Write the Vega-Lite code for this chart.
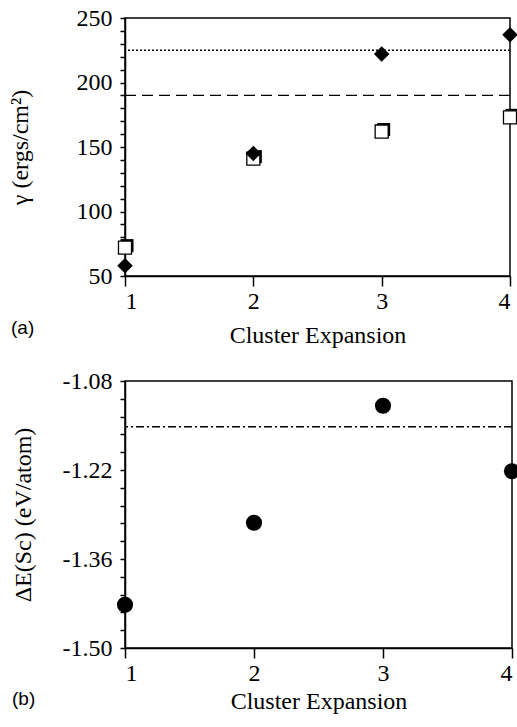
{
  "$schema": "https://vega.github.io/schema/vega-lite/v6.json",
  "background": "white",
  "padding": {"left": 7, "top": 5, "right": 0, "bottom": 0},
  "spacing": 20,
  "config": {
    "font": "Times New Roman, Liberation Serif, serif",
    "view": {"stroke": "black", "strokeWidth": 1.5},
    "axis": {
      "grid": false,
      "domainColor": "black",
      "domainWidth": 1.5,
      "tickColor": "black",
      "tickWidth": 1.5,
      "labelColor": "black",
      "titleColor": "black",
      "labelFont": "Times New Roman, Liberation Serif, serif",
      "titleFont": "Times New Roman, Liberation Serif, serif",
      "labelFontSize": 24,
      "titleFontSize": 24,
      "titleFontWeight": "normal",
      "labelOverlap": false,
      "labelBound": false
    },
    "title": {"font": "Liberation Sans, Arial, sans-serif", "fontSize": 19, "fontWeight": "normal", "color": "black"}
  },
  "datasets": {
    "gamma": [
      {"n": 1, "kind": "diamond", "gamma": 58},
      {"n": 2, "kind": "diamond", "gamma": 145},
      {"n": 3, "kind": "diamond", "gamma": 222},
      {"n": 4, "kind": "diamond", "gamma": 237},
      {"n": 1, "kind": "square", "gamma": 72},
      {"n": 2, "kind": "square", "gamma": 141},
      {"n": 3, "kind": "square", "gamma": 162},
      {"n": 4, "kind": "square", "gamma": 173}
    ],
    "gammaLines": [
      {"gamma": 225, "style": "dotted"},
      {"gamma": 190, "style": "dashed"}
    ],
    "de": [
      {"n": 1, "de": -1.432},
      {"n": 2, "de": -1.303},
      {"n": 3, "de": -1.119},
      {"n": 4, "de": -1.222}
    ],
    "deLines": [
      {"de": -1.152, "style": "dashdot"}
    ]
  },
  "vconcat": [
    {
      "width": 385,
      "height": 258,
      "title": {"text": "(a)", "orient": "bottom", "anchor": "start", "frame": "bounds", "offset": -28, "dx": 3},
      "encoding": {
        "y": {
          "field": "gamma", "type": "quantitative",
          "scale": {"domain": [50, 250], "nice": false, "zero": false},
          "axis": {
            "values": [50, 60, 70, 80, 90, 100, 110, 120, 130, 140, 150, 160, 170, 180, 190, 200, 210, 220, 230, 240, 250],
            "labelExpr": "datum.value % 50 === 0 ? datum.label : ''",
            "labelOverlap": false,
            "tickSize": 5,
            "labelPadding": 8,
            "title": "γ (ergs/cm²)",
            "titlePadding": 44
          }
        }
      },
      "layer": [
        {
          "data": {"name": "gammaLines"},
          "mark": {"type": "rule", "color": "black", "strokeWidth": 1.3},
          "encoding": {
            "strokeDash": {"field": "style", "type": "nominal", "scale": {"domain": ["dotted", "dashed"], "range": [[2, 2], [11, 6]]}, "legend": null}
          }
        },
        {
          "data": {"name": "gamma"},
          "transform": [{"filter": "datum.kind === 'square'"}],
          "mark": {"type": "point", "shape": "square", "filled": true, "color": "black", "opacity": 1, "size": 170, "xOffset": 2, "yOffset": -2},
          "encoding": {
            "x": {"field": "n", "type": "quantitative"}
          }
        },
        {
          "data": {"name": "gamma"},
          "transform": [{"filter": "datum.kind === 'square'"}],
          "mark": {"type": "point", "shape": "square", "filled": true, "fill": "white", "stroke": "black", "strokeWidth": 1.3, "opacity": 1, "size": 170},
          "encoding": {
            "x": {"field": "n", "type": "quantitative"}
          }
        },
        {
          "data": {"name": "gamma"},
          "transform": [{"filter": "datum.kind === 'diamond'"}],
          "mark": {"type": "point", "shape": "diamond", "filled": true, "color": "black", "opacity": 1, "size": 240},
          "encoding": {
            "x": {
              "field": "n", "type": "quantitative",
              "scale": {"domain": [1, 4], "nice": false, "zero": false},
              "axis": {"values": [1, 2, 3, 4], "format": "d", "tickSize": 10, "labelPadding": 3, "labelOverlap": false, "title": "Cluster Expansion", "titlePadding": 10}
            }
          }
        }
      ]
    },
    {
      "width": 387,
      "height": 267,
      "title": {"text": "(b)", "orient": "bottom", "anchor": "start", "frame": "bounds", "offset": -23, "dx": 1},
      "encoding": {
        "y": {
          "field": "de", "type": "quantitative",
          "scale": {"domain": [-1.5, -1.08], "nice": false, "zero": false},
          "axis": {
            "values": [-1.5, -1.472, -1.444, -1.416, -1.388, -1.36, -1.332, -1.304, -1.276, -1.248, -1.22, -1.192, -1.164, -1.136, -1.108, -1.08],
            "labelExpr": "indexof([-1.5, -1.36, -1.22, -1.08], datum.value) >= 0 ? '-' + format(abs(datum.value), '.2f') : ''",
            "labelOverlap": false,
            "tickSize": 5,
            "labelPadding": 8,
            "title": "ΔE(Sc) (eV/atom)",
            "titlePadding": 27
          }
        }
      },
      "layer": [
        {
          "data": {"name": "deLines"},
          "mark": {"type": "rule", "color": "black", "strokeWidth": 1.3, "strokeDash": [8, 3, 2, 3]}
        },
        {
          "data": {"name": "de"},
          "mark": {"type": "point", "shape": "circle", "filled": true, "color": "black", "opacity": 1, "size": 260},
          "encoding": {
            "x": {
              "field": "n", "type": "quantitative",
              "scale": {"domain": [1, 4], "nice": false, "zero": false},
              "axis": {"values": [1, 2, 3, 4], "format": "d", "tickSize": 10, "labelPadding": 3, "labelOverlap": false, "title": "Cluster Expansion", "titlePadding": 4}
            }
          }
        }
      ]
    }
  ]
}
